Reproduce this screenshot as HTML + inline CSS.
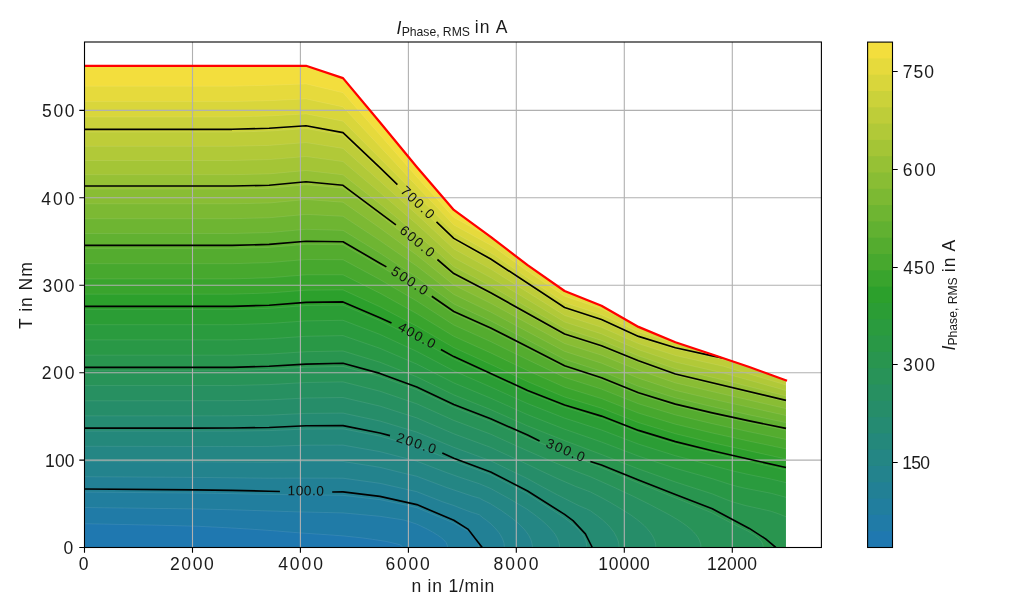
<!DOCTYPE html>
<html lang="en">
<head>
<meta charset="utf-8">
<title>I Phase, RMS in A</title>
<style>
html,body{margin:0;padding:0;background:#fff}
body{width:1024px;height:614px;overflow:hidden}
svg{display:block}
svg text{font-family:"Liberation Sans",sans-serif;fill:#1a1a1a}
.tl text{font-size:17.5px}
.cl text{font-size:13.7px;fill:#111}
.big{font-size:17.5px}
.sub{font-size:12.2px;letter-spacing:0}
</style>
</head>
<body>
<svg width="1024" height="614" viewBox="0 0 1024 614">
<rect width="1024" height="614" fill="#fff"/>
<defs><clipPath id="axclip"><rect x="84.5" y="42.0" width="736.9" height="505.5"/></clipPath></defs>
<g clip-path="url(#axclip)">
<g stroke="#fff" stroke-opacity="0.13" stroke-width="0.7" stroke-linejoin="round">
<path d="M84.4,65.8L306.0,65.8L343.0,78.1L379.9,122.3L416.8,167.0L453.8,209.9L490.7,236.9L527.6,265.2L564.6,291.0L601.5,305.8L638.5,326.9L675.4,342.2L749.3,367.0L786.0,380.3L786.0,547.5L84.4,547.5Z" fill="#1f78b0"/>
<path d="M84.4,65.8L306.0,65.8L343.0,78.1L379.9,122.3L416.8,167.0L453.8,209.9L490.7,236.9L527.6,265.2L564.6,291.0L601.5,305.8L638.5,326.9L675.4,342.2L749.3,367.0L786.0,380.3L786.0,547.5L402.5,547.5L402.0,546.2L399.6,544.6L386.6,541.5L372.4,539.3L362.2,537.9L343.0,535.9L328.1,534.8L298.6,532.8L272.7,530.7L254.3,529.4L228.4,527.8L198.9,526.3L161.9,525.3L84.4,523.7Z" fill="#207ba7"/>
<path d="M84.4,65.8L306.0,65.8L343.0,78.1L379.9,122.3L416.8,167.0L453.8,209.9L490.7,236.9L527.6,265.2L564.6,291.0L601.5,305.8L638.5,326.9L675.4,342.2L749.3,367.0L786.0,380.3L786.0,547.5L447.5,547.5L447.2,545.0L446.1,542.5L443.9,540.0L440.9,537.4L437.1,534.8L432.5,532.0L427.2,529.1L420.4,525.8L416.8,524.1L405.7,520.5L402.0,519.7L379.9,516.3L343.0,512.9L298.6,511.9L232.1,509.8L195.2,508.9L84.4,507.5Z" fill="#217e9e"/>
<path d="M84.4,65.8L306.0,65.8L343.0,78.1L379.9,122.3L416.8,167.0L453.8,209.9L490.7,236.9L527.6,265.2L564.6,291.0L601.5,305.8L638.5,326.9L675.4,342.2L749.3,367.0L786.0,380.3L786.0,547.5L478.6,547.5L478.5,545.2L478.0,542.9L477.1,540.6L475.8,538.3L473.7,536.0L471.0,533.6L467.8,531.1L463.8,528.6L453.8,523.0L416.8,507.6L402.0,504.2L379.9,499.6L343.0,495.3L269.1,494.4L232.1,493.6L195.2,493.0L84.4,492.1Z" fill="#228095"/>
<path d="M84.4,65.8L306.0,65.8L343.0,78.1L379.9,122.3L416.8,167.0L453.8,209.9L490.7,236.9L527.6,265.2L564.6,291.0L601.5,305.8L638.5,326.9L675.4,342.2L749.3,367.0L786.0,380.3L786.0,547.5L504.4,547.5L504.0,543.2L502.6,538.9L500.2,534.5L498.7,532.3L494.8,527.7L490.7,523.7L486.9,520.6L483.2,518.0L479.5,514.9L475.8,513.5L472.1,512.5L461.0,508.4L453.8,505.5L442.6,501.8L416.8,491.7L379.9,483.3L343.0,478.2L306.0,478.1L269.1,478.2L195.2,477.4L84.4,476.7Z" fill="#23838d"/>
<path d="M84.4,65.8L306.0,65.8L343.0,78.1L379.9,122.3L416.8,167.0L453.8,209.9L490.7,236.9L527.6,265.2L564.6,291.0L601.5,305.8L638.5,326.9L675.4,342.2L749.3,367.0L786.0,380.3L786.0,547.5L532.4,547.5L532.3,545.5L531.5,541.5L530.8,539.5L528.8,535.4L525.9,531.3L523.8,528.8L520.0,524.9L516.4,521.7L511.9,518.1L501.7,510.8L490.7,503.9L483.2,500.2L479.5,498.2L472.1,496.1L446.3,487.4L416.8,476.3L402.0,472.8L379.9,467.3L343.0,461.5L306.0,461.5L269.1,462.2L84.4,461.5Z" fill="#248684"/>
<path d="M84.4,65.8L306.0,65.8L343.0,78.1L379.9,122.3L416.8,167.0L453.8,209.9L490.7,236.9L527.6,265.2L564.6,291.0L601.5,305.8L638.5,326.9L675.4,342.2L749.3,367.0L786.0,380.3L786.0,547.5L559.6,547.5L559.5,545.6L558.8,541.9L557.3,538.2L555.1,534.3L553.7,532.4L550.3,528.5L546.3,524.4L541.6,520.2L536.2,515.9L526.9,509.1L509.6,498.9L490.7,488.5L479.5,483.8L461.0,477.7L446.3,472.5L416.8,461.2L379.9,451.6L343.0,445.1L306.0,445.2L269.1,446.4L243.2,446.5L84.4,446.3Z" fill="#24887b"/>
<path d="M84.4,65.8L306.0,65.8L343.0,78.1L379.9,122.3L416.8,167.0L453.8,209.9L490.7,236.9L527.6,265.2L564.6,291.0L601.5,305.8L638.5,326.9L675.4,342.2L749.3,367.0L786.0,380.3L786.0,547.5L586.8,547.5L586.6,544.0L585.7,540.4L584.1,536.8L583.0,535.0L581.7,533.2L578.5,529.6L574.6,525.9L570.0,522.1L564.6,518.0L555.4,511.8L527.6,493.8L490.7,474.6L453.8,461.0L416.8,446.4L379.9,436.1L343.0,428.8L306.0,429.0L269.1,430.6L232.1,431.1L84.4,431.1Z" fill="#258b72"/>
<path d="M84.4,65.8L306.0,65.8L343.0,78.1L379.9,122.3L416.8,167.0L453.8,209.9L490.7,236.9L527.6,265.2L564.6,291.0L601.5,305.8L638.5,326.9L675.4,342.2L749.3,367.0L786.0,380.3L786.0,547.5L619.1,547.5L618.8,544.2L618.1,540.9L616.8,537.5L614.0,532.4L610.0,527.2L606.5,523.6L602.5,519.9L597.9,516.2L590.3,510.7L586.6,508.9L579.2,505.8L557.1,494.7L542.3,486.8L527.6,478.7L490.7,460.8L453.8,447.3L416.8,432.1L379.9,421.0L343.0,413.1L306.0,413.4L269.1,415.2L232.1,415.8L84.4,415.9Z" fill="#268d69"/>
<path d="M84.4,65.8L306.0,65.8L343.0,78.1L379.9,122.3L416.8,167.0L453.8,209.9L490.7,236.9L527.6,265.2L564.6,291.0L601.5,305.8L638.5,326.9L675.4,342.2L749.3,367.0L786.0,380.3L786.0,547.5L655.9,547.5L655.7,544.5L655.0,541.4L653.8,538.3L652.1,535.2L650.0,532.1L647.4,528.9L644.3,525.7L640.6,522.4L636.3,519.0L631.3,515.4L622.6,509.8L608.8,501.6L601.0,497.4L590.3,491.9L575.5,486.4L557.1,478.4L542.3,471.5L527.6,464.4L490.7,447.4L453.8,433.8L416.8,417.9L379.9,406.1L343.0,397.5L306.0,398.0L269.1,399.9L232.1,400.7L84.4,400.8Z" fill="#279061"/>
<path d="M84.4,65.8L306.0,65.8L343.0,78.1L379.9,122.3L416.8,167.0L453.8,209.9L490.7,236.9L527.6,265.2L564.6,291.0L601.5,305.8L638.5,326.9L675.4,342.2L749.3,367.0L786.0,380.3L786.0,547.5L701.0,547.5L700.8,544.7L700.5,543.3L699.5,540.5L698.0,537.6L696.0,534.7L693.4,531.8L690.4,528.9L686.7,525.9L682.5,522.9L677.7,519.7L669.4,514.8L649.4,504.3L633.5,496.4L613.6,487.1L590.3,476.7L575.5,471.2L549.7,460.5L520.1,447.5L490.7,434.2L453.8,420.4L416.8,403.8L379.9,391.2L343.0,381.9L306.0,382.5L269.1,384.6L232.1,385.5L84.4,385.6Z" fill="#289358"/>
<path d="M84.4,65.8L306.0,65.8L343.0,78.1L379.9,122.3L416.8,167.0L453.8,209.9L490.7,236.9L527.6,265.2L564.6,291.0L601.5,305.8L638.5,326.9L675.4,342.2L749.3,367.0L786.0,380.3L786.0,547.5L763.3,547.5L763.0,545.0L762.6,543.7L761.3,541.2L759.1,538.7L757.7,537.4L754.2,534.7L747.1,530.7L730.6,522.7L712.3,513.0L683.8,501.2L638.5,482.9L590.5,463.1L527.6,437.7L490.7,421.4L453.8,407.1L416.8,389.7L379.9,376.4L343.0,366.4L306.0,367.2L269.1,369.3L232.1,370.4L84.4,370.4Z" fill="#29954f"/>
<path d="M84.4,65.8L306.0,65.8L343.0,78.1L379.9,122.3L416.8,167.0L453.8,209.9L490.7,236.9L527.6,265.2L564.6,291.0L601.5,305.8L638.5,326.9L675.4,342.2L749.3,367.0L786.0,380.3L786.0,516.7L777.4,513.4L771.2,511.3L766.6,510.2L745.4,505.5L734.3,502.4L726.9,499.8L712.3,493.9L675.4,482.0L638.5,468.9L601.5,454.5L564.6,440.6L527.6,425.9L490.7,409.6L453.8,394.9L416.8,376.8L379.9,362.2L343.0,351.0L306.0,351.7L269.1,354.1L232.1,355.2L84.4,355.2Z" fill="#299846"/>
<path d="M84.4,65.8L306.0,65.8L343.0,78.1L379.9,122.3L416.8,167.0L453.8,209.9L490.7,236.9L527.6,265.2L564.6,291.0L601.5,305.8L638.5,326.9L675.4,342.2L749.3,367.0L786.0,380.3L786.0,497.3L771.2,493.3L745.4,488.3L738.0,486.6L730.6,484.6L712.3,478.7L675.4,468.3L638.5,456.1L601.5,442.0L564.6,429.2L527.6,414.7L490.7,398.2L453.8,382.9L416.8,364.1L379.9,348.3L343.0,335.6L306.0,336.3L269.1,338.8L232.1,339.9L84.4,339.9Z" fill="#2a9b3e"/>
<path d="M84.4,65.8L306.0,65.8L343.0,78.1L379.9,122.3L416.8,167.0L453.8,209.9L490.7,236.9L527.6,265.2L564.6,291.0L601.5,305.8L638.5,326.9L675.4,342.2L749.3,367.0L786.0,380.3L786.0,482.6L771.2,479.1L749.1,474.6L734.3,471.3L675.4,455.7L638.5,444.1L601.5,430.0L564.6,418.1L527.6,403.6L490.7,387.0L453.8,370.9L416.8,351.4L379.9,334.4L343.0,320.3L306.0,320.9L269.1,323.5L232.1,324.7L84.4,324.7Z" fill="#2b9d35"/>
<path d="M84.4,65.8L306.0,65.8L343.0,78.1L379.9,122.3L416.8,167.0L453.8,209.9L490.7,236.9L527.6,265.2L564.6,291.0L601.5,305.8L638.5,326.9L675.4,342.2L749.3,367.0L786.0,380.3L786.0,469.9L726.9,456.5L675.4,443.9L638.5,432.6L601.5,418.4L564.6,407.2L527.6,392.6L453.8,359.0L416.8,338.8L379.9,320.5L343.0,305.0L306.0,305.5L269.1,308.3L232.1,309.4L84.4,309.4Z" fill="#2ca02c"/>
<path d="M84.4,65.8L306.0,65.8L343.0,78.1L379.9,122.3L416.8,167.0L453.8,209.9L490.7,236.9L527.6,265.2L564.6,291.0L601.5,305.8L638.5,326.9L675.4,342.2L749.3,367.0L786.0,380.3L786.0,459.0L712.3,442.7L675.4,433.7L638.5,422.6L601.5,408.2L564.6,397.0L527.6,381.6L490.7,364.3L453.8,347.6L416.8,326.2L379.9,306.8L343.0,289.9L306.0,290.2L269.1,293.0L232.1,294.2L84.4,294.2Z" fill="#39a42d"/>
<path d="M84.4,65.8L306.0,65.8L343.0,78.1L379.9,122.3L416.8,167.0L453.8,209.9L490.7,236.9L527.6,265.2L564.6,291.0L601.5,305.8L638.5,326.9L675.4,342.2L749.3,367.0L786.0,380.3L786.0,448.9L749.3,441.2L712.3,433.0L675.4,424.2L638.5,413.1L601.5,398.6L564.6,387.2L527.6,370.6L490.7,352.9L453.8,336.3L416.2,313.3L379.9,293.2L343.0,274.8L306.0,274.8L269.1,277.8L232.1,278.9L84.4,278.9Z" fill="#47a82e"/>
<path d="M84.4,65.8L306.0,65.8L343.0,78.1L379.9,122.3L416.8,167.0L453.8,209.9L490.7,236.9L527.6,265.2L564.6,291.0L601.5,305.8L638.5,326.9L675.4,342.2L749.3,367.0L786.0,380.3L786.0,439.4L749.3,431.8L712.3,423.7L675.4,414.9L638.5,403.8L601.5,389.1L564.6,377.4L527.6,359.7L490.7,341.6L453.8,325.0L416.8,301.1L379.9,279.5L343.0,259.7L306.0,259.5L269.1,262.6L232.1,263.7L84.4,263.7Z" fill="#54ac2f"/>
<path d="M84.4,65.8L306.0,65.8L343.0,78.1L379.9,122.3L416.8,167.0L453.8,209.9L490.7,236.9L527.6,265.2L564.6,291.0L601.5,305.8L638.5,326.9L675.4,342.2L749.3,367.0L786.0,380.3L786.0,430.2L749.3,422.7L712.3,414.7L675.4,405.9L638.5,394.6L601.5,379.7L564.6,367.7L490.7,330.3L453.8,313.7L416.8,288.5L379.9,265.9L343.0,244.7L306.0,244.3L269.1,247.4L232.1,248.4L84.4,248.4Z" fill="#61b131"/>
<path d="M84.4,65.8L306.0,65.8L343.0,78.1L379.9,122.3L416.8,167.0L453.8,209.9L490.7,236.9L527.6,265.2L564.6,291.0L601.5,305.8L638.5,326.9L675.4,342.2L749.3,367.0L786.0,380.3L786.0,422.6L749.3,414.9L712.3,406.7L675.4,397.9L638.5,386.3L601.5,371.3L564.6,359.4L527.6,340.0L490.7,320.9L453.8,303.9L416.8,277.2L379.9,253.1L343.0,230.4L306.0,229.3L269.1,232.6L232.1,233.5L84.4,233.5Z" fill="#6eb532"/>
<path d="M84.4,65.8L306.0,65.8L343.0,78.1L379.9,122.3L416.8,167.0L453.8,209.9L490.7,236.9L527.6,265.2L564.6,291.0L601.5,305.8L638.5,326.9L675.4,342.2L749.3,367.0L786.0,380.3L786.0,415.5L712.3,399.1L675.4,390.4L638.5,378.2L601.5,363.2L564.6,351.4L490.7,312.1L453.8,294.4L416.8,266.1L379.9,240.6L343.0,216.3L306.0,214.4L269.1,217.8L232.1,218.7L84.4,218.7Z" fill="#7cb933"/>
<path d="M84.4,65.8L306.0,65.8L343.0,78.1L379.9,122.3L416.8,167.0L453.8,209.9L490.7,236.9L527.6,265.2L564.6,291.0L601.5,305.8L638.5,326.9L675.4,342.2L749.3,367.0L786.0,380.3L786.0,408.6L712.3,391.6L675.4,382.9L638.5,370.2L601.5,355.2L564.6,343.5L490.7,303.3L453.8,285.0L416.8,255.1L379.9,228.0L343.0,202.2L306.0,199.5L269.1,203.0L232.1,203.8L84.4,203.8Z" fill="#89bd34"/>
<path d="M84.4,65.8L306.0,65.8L343.0,78.1L379.9,122.3L416.8,167.0L453.8,209.9L490.7,236.9L527.6,265.2L564.6,291.0L601.5,305.8L638.5,326.9L675.4,342.2L749.3,367.0L786.0,380.3L786.0,401.8L675.4,375.5L638.5,362.3L601.5,347.3L564.6,335.6L490.7,294.6L453.8,275.5L416.8,244.0L379.9,215.4L343.0,188.1L306.0,184.7L269.1,188.3L232.1,189.0L84.4,189.0Z" fill="#96c135"/>
<path d="M84.4,65.8L306.0,65.8L343.0,78.1L379.9,122.3L416.8,167.0L453.8,209.9L490.7,236.9L527.6,265.2L564.6,291.0L601.5,305.8L638.5,326.9L675.4,342.2L749.3,367.0L786.0,380.3L786.0,396.0L723.2,379.9L675.4,368.7L638.5,355.8L601.5,340.4L564.6,328.7L490.7,286.0L453.8,266.6L416.8,234.0L379.9,203.9L343.0,174.8L306.0,170.5L269.1,173.9L232.1,174.7L84.4,174.7Z" fill="#a4c536"/>
<path d="M84.4,65.8L306.0,65.8L343.0,78.1L379.9,122.3L416.8,167.0L453.8,209.9L490.7,236.9L527.6,265.2L564.6,291.0L601.5,305.8L638.5,326.9L675.4,342.2L749.3,367.0L786.0,380.3L786.0,390.5L723.2,373.0L675.4,362.1L638.5,349.7L601.5,333.9L564.6,322.0L490.7,277.6L453.8,257.8L416.8,224.2L379.9,192.6L343.0,161.6L306.0,156.5L269.1,159.6L232.1,160.5L84.4,160.5Z" fill="#b1c938"/>
<path d="M84.4,65.8L306.0,65.8L343.0,78.1L379.9,122.3L416.8,167.0L453.8,209.9L490.7,236.9L527.6,265.2L564.6,291.0L601.5,305.8L638.5,326.9L675.4,342.2L749.3,367.0L786.0,380.3L786.0,385.0L723.2,366.2L675.4,355.5L638.5,343.6L601.5,327.3L564.6,315.4L490.7,269.1L453.8,249.0L416.8,214.5L379.9,181.3L343.0,148.4L306.0,142.6L269.1,145.4L232.1,146.3L84.4,146.3Z" fill="#becd39"/>
<path d="M84.4,65.8L306.0,65.8L343.0,78.1L379.9,122.3L416.8,167.0L453.8,209.9L490.7,236.9L527.6,265.2L564.6,291.0L601.5,305.8L638.5,326.9L675.4,342.2L749.3,367.0L767.6,373.6L723.2,359.5L675.4,349.0L638.5,337.6L601.5,320.8L564.6,308.8L490.7,260.7L453.8,240.2L416.8,204.8L343.0,135.2L306.0,128.6L269.1,131.1L232.1,132.1L84.4,132.1Z" fill="#cbd23a"/>
<path d="M84.4,65.8L306.0,65.8L343.0,78.1L379.9,122.3L416.8,167.0L453.8,209.9L490.7,236.9L527.6,265.2L564.6,291.0L601.5,305.8L638.5,326.9L675.4,342.2L682.4,344.5L675.4,343.1L638.5,331.9L601.5,314.7L564.6,302.5L527.6,278.0L494.3,255.1L490.7,252.9L453.8,232.4L343.0,121.2L306.0,113.9L269.1,116.0L232.1,117.0L84.4,117.0Z" fill="#d9d63b"/>
<path d="M84.4,65.8L306.0,65.8L343.0,78.1L379.9,122.3L416.8,167.0L453.8,209.9L490.7,236.9L527.6,265.2L564.6,291.0L601.5,305.8L631.1,322.7L601.5,308.7L564.6,296.2L527.6,271.3L494.3,247.4L490.7,245.2L453.8,225.0L416.8,186.2L343.0,106.9L306.0,98.9L269.1,100.7L232.1,101.6L84.4,101.6Z" fill="#e6da3c"/>
<path d="M84.4,65.8L306.0,65.8L343.0,78.1L379.9,122.3L416.8,167.0L453.8,209.9L494.3,239.6L453.8,217.5L416.8,177.0L343.0,92.7L306.0,83.9L269.1,85.3L232.1,86.2L84.4,86.2Z" fill="#f3de3d"/>
</g>
<g stroke="#b0b0b0" stroke-width="1.1" fill="none">
<path d="M84.5,42.0V547.5"/>
<path d="M192.5,42.0V547.5"/>
<path d="M300.4,42.0V547.5"/>
<path d="M408.4,42.0V547.5"/>
<path d="M516.3,42.0V547.5"/>
<path d="M624.3,42.0V547.5"/>
<path d="M732.3,42.0V547.5"/>
<path d="M84.5,547.5H821.4"/>
<path d="M84.5,460.1H821.4"/>
<path d="M84.5,372.7H821.4"/>
<path d="M84.5,285.2H821.4"/>
<path d="M84.5,197.8H821.4"/>
<path d="M84.5,110.4H821.4"/>
</g>
<g class="cl">
<text transform="translate(416.9,203.2) rotate(43.5)" x="-20.48" textLength="40.78" y="3.5">700.0</text>
<text transform="translate(416.6,242.2) rotate(39.9)" x="-20.48" textLength="40.78" y="3.5">600.0</text>
<text transform="translate(409.1,281.6) rotate(32.9)" x="-20.35" textLength="40.64" y="3.5">500.0</text>
<text transform="translate(416.2,336.2) rotate(28.3)" x="-20.07" textLength="40.37" y="3.5">400.0</text>
<text transform="translate(565.0,451.2) rotate(22.0)" x="-20.28" textLength="40.58" y="3.5">300.0</text>
<text transform="translate(416.1,444.3) rotate(18.4)" x="-20.48" textLength="40.78" y="3.5">200.0</text>
<text transform="translate(306.0,491.8) rotate(0.5)" x="-18.53" textLength="36.52" y="3.5">100.0</text>
</g>
<g stroke="#000" stroke-width="1.65" fill="none" stroke-linejoin="round">
<path d="M84.4,129.3L232.1,129.3L269.1,128.3L306.0,125.8L343.0,132.6L379.9,167.7L397.4,184.7"/>
<path d="M436.5,221.8L453.8,238.4L490.7,259.0L564.6,307.5L601.5,319.5L638.5,336.4L675.4,347.7L712.3,355.9L722.5,358.0"/>
<path d="M84.4,186.0L232.1,186.0L269.1,185.3L306.0,181.7L343.0,185.3L395.9,224.8"/>
<path d="M437.4,259.5L453.8,273.6L490.7,292.8L564.6,334.0L601.5,345.7L638.5,360.7L675.4,374.0L786.0,400.4"/>
<path d="M84.4,245.4L232.1,245.4L269.1,244.4L306.0,241.2L343.0,241.7L379.9,263.2L386.4,266.9"/>
<path d="M431.8,296.3L453.8,311.5L490.7,328.0L527.6,346.7L564.6,365.8L601.5,377.8L638.5,392.8L675.4,404.1L712.3,412.9L749.3,420.9L786.0,428.4"/>
<path d="M84.4,306.4L232.1,306.4L269.1,305.2L306.0,302.4L343.0,301.9L379.9,317.7L391.5,322.9"/>
<path d="M440.9,349.5L453.8,356.6L527.6,390.4L564.6,405.0L601.5,416.1L638.5,430.4L675.4,441.6L712.3,450.7L749.3,459.2L786.0,467.5"/>
<path d="M84.4,367.4L232.1,367.4L269.1,366.3L306.0,364.1L343.0,363.3L379.9,373.4L416.8,386.9L453.8,404.5L490.7,418.8L527.6,435.1L539.6,441.0"/>
<path d="M590.4,461.5L601.5,465.0L638.5,480.0L675.4,494.5L712.3,508.8L749.3,528.4L765.6,538.9L775.8,547.5"/>
<path d="M84.4,428.1L195.2,428.1L232.1,428.0L269.1,427.5L306.0,425.8L343.0,425.6L379.9,433.0L390.0,435.6"/>
<path d="M442.3,453.0L453.8,458.2L490.7,471.9L527.6,491.0L564.6,514.4L573.0,520.6L585.4,533.9L592.3,547.5"/>
<path d="M84.4,489.0L195.2,489.9L232.1,490.4L269.1,491.2L279.9,491.5"/>
<path d="M332.2,492.0L343.0,491.9L379.9,496.4L416.8,504.6L453.8,520.2L467.9,529.1L482.2,547.5"/>
</g>
<path d="M84.4,65.8L306.0,65.8L343.0,78.1L379.9,122.3L416.8,167.0L453.8,209.9L490.7,236.9L527.6,265.2L564.6,291.0L601.5,305.8L638.5,326.9L675.4,342.2L712.3,354.5L749.3,367.0L786.0,380.3" stroke="#ff0000" stroke-width="2.25" fill="none" stroke-linejoin="round" stroke-linecap="square"/>
</g>
<rect x="84.5" y="42.0" width="736.9" height="505.5" fill="none" stroke="#000" stroke-width="1.1"/>
<g stroke="#000" stroke-width="1.1" fill="none">
<path d="M84.5,547.5v5.2M192.5,547.5v5.2M300.4,547.5v5.2M408.4,547.5v5.2M516.3,547.5v5.2M624.3,547.5v5.2M732.3,547.5v5.2M84.5,547.5h-5.2M84.5,460.1h-5.2M84.5,372.7h-5.2M84.5,285.2h-5.2M84.5,197.8h-5.2M84.5,110.4h-5.2"/>
<path d="M892.5,462.5h5.2M892.5,364.5h5.2M892.5,267.5h5.2M892.5,169.5h5.2M892.5,71.5h5.2"/>
</g>
<g class="tl">
<text x="78.69" textLength="10.85" y="570.3">0</text>
<text x="169.93" textLength="43.91" y="570.3">2000</text>
<text x="278.15" textLength="44.78" y="570.3">4000</text>
<text x="385.62" textLength="44.21" y="570.3">6000</text>
<text x="493.40" textLength="45.13" y="570.3">8000</text>
<text x="598.19" textLength="51.65" y="570.3">10000</text>
<text x="706.89" textLength="50.15" y="570.3">12000</text>
<text x="63.59" textLength="11.65" y="554.2">0</text>
<text x="45.09" textLength="29.35" y="466.8">100</text>
<text x="41.82" textLength="32.61" y="379.4">200</text>
<text x="42.39" textLength="32.05" y="291.9">300</text>
<text x="41.25" textLength="33.18" y="204.5">400</text>
<text x="42.10" textLength="32.33" y="117.1">500</text>
<text x="902.29" textLength="27.65" y="468.8">150</text>
<text x="902.99" textLength="32.05" y="370.8">300</text>
<text x="903.25" textLength="31.48" y="273.8">450</text>
<text x="902.73" textLength="33.01" y="175.8">600</text>
<text x="902.73" textLength="31.31" y="77.8">750</text>
</g>
<g>
<rect x="867.6" y="529.70" width="24.9" height="17.80" fill="#1f78b0"/>
<rect x="867.6" y="513.39" width="24.9" height="17.80" fill="#207ba7"/>
<rect x="867.6" y="497.09" width="24.9" height="17.80" fill="#217e9e"/>
<rect x="867.6" y="480.79" width="24.9" height="17.80" fill="#228095"/>
<rect x="867.6" y="464.48" width="24.9" height="17.80" fill="#23838d"/>
<rect x="867.6" y="448.18" width="24.9" height="17.80" fill="#248684"/>
<rect x="867.6" y="431.88" width="24.9" height="17.80" fill="#24887b"/>
<rect x="867.6" y="415.57" width="24.9" height="17.80" fill="#258b72"/>
<rect x="867.6" y="399.27" width="24.9" height="17.80" fill="#268d69"/>
<rect x="867.6" y="382.97" width="24.9" height="17.80" fill="#279061"/>
<rect x="867.6" y="366.66" width="24.9" height="17.80" fill="#289358"/>
<rect x="867.6" y="350.36" width="24.9" height="17.80" fill="#29954f"/>
<rect x="867.6" y="334.06" width="24.9" height="17.80" fill="#299846"/>
<rect x="867.6" y="317.75" width="24.9" height="17.80" fill="#2a9b3e"/>
<rect x="867.6" y="301.45" width="24.9" height="17.80" fill="#2b9d35"/>
<rect x="867.6" y="285.15" width="24.9" height="17.80" fill="#2ca02c"/>
<rect x="867.6" y="268.85" width="24.9" height="17.80" fill="#39a42d"/>
<rect x="867.6" y="252.54" width="24.9" height="17.80" fill="#47a82e"/>
<rect x="867.6" y="236.24" width="24.9" height="17.80" fill="#54ac2f"/>
<rect x="867.6" y="219.94" width="24.9" height="17.80" fill="#61b131"/>
<rect x="867.6" y="203.63" width="24.9" height="17.80" fill="#6eb532"/>
<rect x="867.6" y="187.33" width="24.9" height="17.80" fill="#7cb933"/>
<rect x="867.6" y="171.03" width="24.9" height="17.80" fill="#89bd34"/>
<rect x="867.6" y="154.72" width="24.9" height="17.80" fill="#96c135"/>
<rect x="867.6" y="138.42" width="24.9" height="17.80" fill="#a4c536"/>
<rect x="867.6" y="122.12" width="24.9" height="17.80" fill="#b1c938"/>
<rect x="867.6" y="105.81" width="24.9" height="17.80" fill="#becd39"/>
<rect x="867.6" y="89.51" width="24.9" height="17.80" fill="#cbd23a"/>
<rect x="867.6" y="73.21" width="24.9" height="17.80" fill="#d9d63b"/>
<rect x="867.6" y="56.90" width="24.9" height="17.80" fill="#e6da3c"/>
<rect x="867.6" y="42.10" width="24.9" height="16.30" fill="#f3de3d"/>
</g>
<rect x="867.6" y="42.1" width="24.9" height="505.4" fill="none" stroke="#000" stroke-width="1.1"/>
<g id="title">
<text class="big" x="396.6" y="33.7" font-style="italic">I</text>
<text class="sub" x="401.72" textLength="68.19" y="36.0">Phase, RMS</text>
<text class="big" x="474.86" textLength="32.57" y="33.4">in A</text>
</g>
<text class="big" x="411.46" textLength="82.81" y="591.6">n in 1/min</text>
<text class="big" transform="translate(31.5,296) rotate(-90)" x="-33.00" textLength="66.75">T in Nm</text>
<g transform="translate(954.9,349.6) rotate(-90)">
<text class="big" x="-1" y="0" font-style="italic">I</text>
<text class="sub" x="4.12" textLength="68.19" y="2.4">Phase, RMS</text>
<text class="big" x="77.26" textLength="32.57" y="-0.2">in A</text>
</g>
</svg>
</body>
</html>
